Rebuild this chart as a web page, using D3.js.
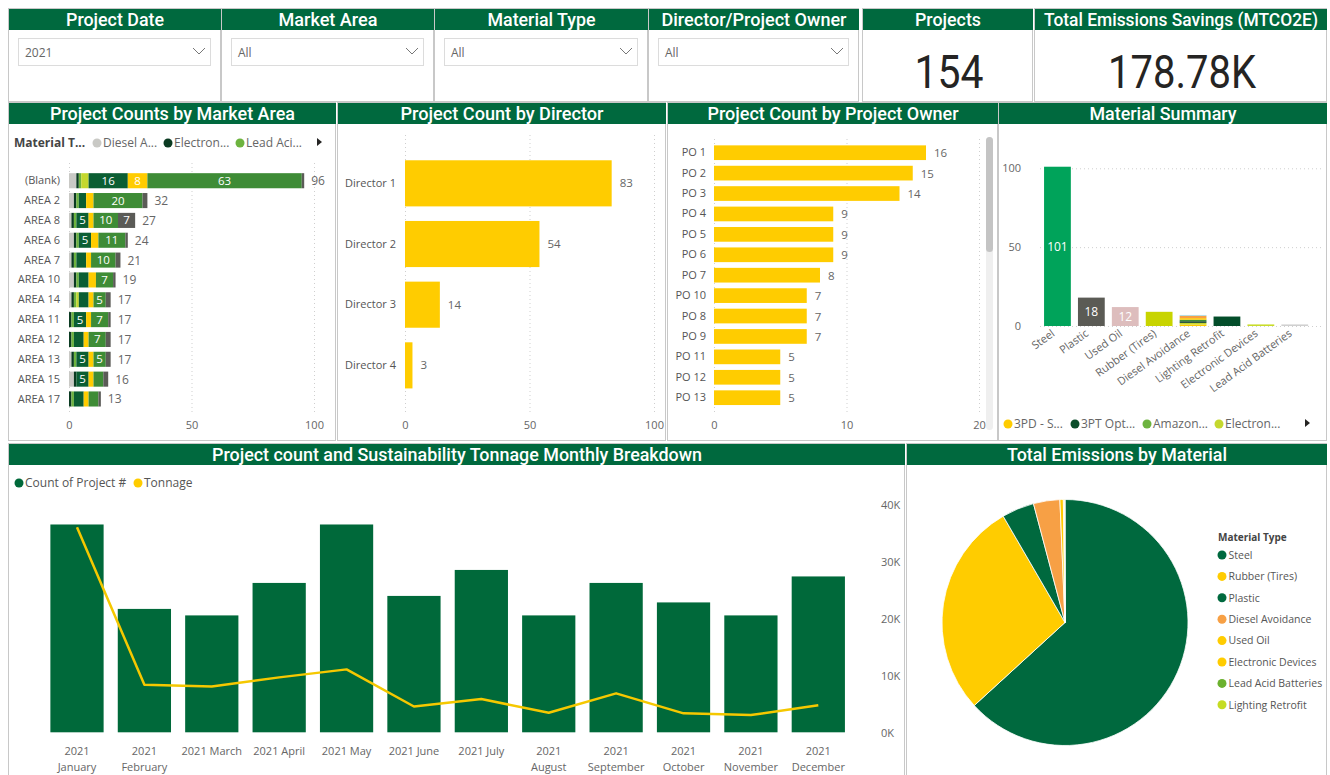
<!DOCTYPE html>
<html><head><meta charset="utf-8">
<script src="https://cdn.jsdelivr.net/npm/d3@7"></script>
<style>
body{margin:0;background:#fff;}
svg{display:block;font-family:"Open Sans","Noto Sans",sans-serif;}
</style>
</head><body>
<svg id="c" width="1330" height="775"></svg>
<script>
// ---------------- DATA ----------------
const filterTitles = ["Project Date","Market Area","Material Type","Director/Project Owner"];
const filterValues = ["2021","All","All","All"];
const kpiTitles = ["Projects","Total Emissions Savings (MTCO2E)"];
const kpiValues = ["154","178.78K"];

const areaCategories = ["(Blank)","AREA 2","AREA 8","AREA 6","AREA 7","AREA 10","AREA 14","AREA 11","AREA 12","AREA 13","AREA 15","AREA 17"];
const materialTypes = ["Diesel Avoidance","Electronic Devices","Lead Acid Batteries","Lighting Retrofit","Plastic","Rubber (Tires)","Steel","Used Oil"];
const areaDiesel     = [3,2,1,2,1,2,1,0,0,1,2,0];
const areaElectronic = [1,1,1,1,1,1,1,1,1,1,1,1];
const areaLeadAcid   = [1,1,1,1,1,1,1,1,1,1,0,1];
const areaLighting   = [3,0,0,0,0,0,1,0,0,0,0,0];
const areaPlastic    = [16,3,5,5,4,4,4,5,4,5,5,4];
const areaRubber     = [8,3,2,3,2,3,2,2,2,2,2,2];
const areaSteel      = [63,20,10,11,10,7,5,7,7,5,4,4];
const areaUsedOil    = [1,2,7,1,2,1,2,1,2,2,2,1];
const areaLegend = ["Diesel A...","Electron...","Lead Aci..."];

const directors = ["Director 1","Director 2","Director 3","Director 4"];
const directorCounts = [83,54,14,3];

const owners = ["PO 1","PO 2","PO 3","PO 4","PO 5","PO 6","PO 7","PO 10","PO 8","PO 9","PO 11","PO 12","PO 13"];
const ownerCounts = [16,15,14,9,9,9,8,7,7,7,5,5,5];

const summaryMaterials = ["Steel","Plastic","Used Oil","Rubber (Tires)","Diesel Avoidance","Lighting Retrofit","Electronic Devices","Lead Acid Batteries"];
const summaryCounts = [101,18,12,9,7,6,1,1];
const dieselVendorCounts = [1,1,1,1,1,1.5,0.5];
const summaryLegend = ["3PD - S...","3PT Opt...","Amazon...","Electron..."];

const months = ["2021 January","2021 February","2021 March","2021 April","2021 May","2021 June","2021 July","2021 August","2021 September","2021 October","2021 November","2021 December"];
const monthProjectCounts = [32,19,18,23,32,21,25,18,23,20,18,24];
const monthTonnage = [36100,8500,8200,9800,11200,4700,6000,3600,7000,3500,3200,4900];
const monthLegend = ["Count of Project #","Tonnage"];

const pieMaterials = ["Steel","Rubber (Tires)","Plastic","Diesel Avoidance","Used Oil","Electronic Devices","Lead Acid Batteries","Lighting Retrofit"];
const pieEmissions = [113000,50800,7600,6200,800,200,100,80];

// ---------------- STYLE ----------------
const G = "#00693E", Y = "#FFCC00", GRAY_TXT = "#666";
const HFONT = "Roboto, 'Open Sans', sans-serif";
const areaColors = ["#C9C9C5","#0B3B22","#6DB33F","#C4D82E","#0B5E33","#FFCC00","#3E8C36","#5B5B57"];
const summaryColors = ["#00A35A","#5B5B55","#DDBDBD","#C8D400","#F7A045","#034D2A","#C9DC2A","#D0D0D0"];
const dieselColors = ["#FFCC00","#C4D82E","#0B3B22","#3E8C36","#FFCC00","#F7A045","#9FD9E8"];
const summaryLegendColors = ["#FFCC00","#0B4D2A","#6DB33F","#C4D82E"];
const pieColors = ["#00693E","#FFCC00","#00693E","#F7A045","#FFCC00","#FFCC00","#6BB12E","#C5DC22"];

const svg = d3.select("#c");

function panel(x0,y0,x1,y1,title,tw){
  svg.append("rect").attr("x",x0+0.5).attr("y",y0+0.5).attr("width",x1-x0).attr("height",y1-y0)
    .attr("fill","#fff").attr("stroke","#C8C8C8");
  svg.append("rect").attr("x",x0+1).attr("y",y0+1).attr("width",x1-x0).attr("height",21).attr("fill",G);
  svg.append("text").attr("x",(x0+x1)/2+1).attr("y",y0+18).attr("text-anchor","middle")
    .attr("fill","#fff").style("font-family",HFONT).style("font-weight",500).style("font-size","18px")
    .attr("textLength",tw).attr("lengthAdjust","spacingAndGlyphs").text(title);
}
function tri(x,y){
  svg.append("path").attr("d",`M${x},${y-4}L${x+5},${y}L${x},${y+4}Z`).attr("fill","#252423");
}
function styleAxis(g,size){
  g.select(".domain").remove();
  g.selectAll("text").attr("fill",GRAY_TXT).style("font-size",(size||11)+"px").style("font-family","'Open Sans',sans-serif");
}
function grid(g){
  g.selectAll(".tick line").attr("stroke","#CFCFCF").attr("stroke-dasharray","1,3");
}

// ---------------- TOP ROW ----------------
const filterX = [[8,220],[221,433],[434,647],[648,858]];
const filterTW = [98,99,108,185];
filterTitles.forEach((t,i)=>{
  const [a,b] = filterX[i];
  panel(a,8,b,101,t,filterTW[i]);
  svg.append("rect").attr("x",a+10.5).attr("y",38.5).attr("width",b-a-20).attr("height",27)
    .attr("fill","#fff").attr("stroke","#DCDCDC");
  svg.append("text").attr("x",a+17).attr("y",57).attr("fill",GRAY_TXT).style("font-size","12px").text(filterValues[i]);
  const cx = b-21;
  svg.append("path").attr("d",`M${cx-6},${48}L${cx},${54}L${cx+6},${48}`).attr("fill","none").attr("stroke","#777").attr("stroke-width",1);
});
const kpiX = [[862,1032],[1034,1326]];
const kpiTW = [66,274], kpiVW = [69,148];
kpiTitles.forEach((t,i)=>{
  const [a,b] = kpiX[i];
  panel(a,8,b,101,t,kpiTW[i]);
  svg.append("text").attr("x",(a+b)/2+2).attr("y",88).attr("text-anchor","middle").attr("fill","#252423")
    .style("font-family",HFONT).style("font-size","46px").attr("textLength",kpiVW[i]).attr("lengthAdjust","spacingAndGlyphs").text(kpiValues[i]);
});

// ---------------- MARKET AREA ----------------
panel(8,102,335,440,"Project Counts by Market Area",245);
{
  const x = d3.scaleLinear().domain([0,100]).range([69,314]);
  const y = d3.scaleBand().domain(areaCategories).range([170.8,408.9]).paddingInner(0.24).paddingOuter(0.12);
  const gx = svg.append("g").attr("transform","translate(0,412)")
    .call(d3.axisBottom(x).tickValues([0,50,100]).tickSize(-252).tickPadding(9));
  styleAxis(gx); grid(gx);
  const gy = svg.append("g").attr("transform","translate(69,0)").call(d3.axisLeft(y).tickSize(0).tickPadding(9));
  styleAxis(gy);
  gy.selectAll("text").attr("fill","#555");
  const series = [areaDiesel,areaElectronic,areaLeadAcid,areaLighting,areaPlastic,areaRubber,areaSteel,areaUsedOil];
  const rows = areaCategories.map((c,i)=>{const o={cat:c}; materialTypes.forEach((m,k)=>o[m]=series[k][i]); return o;});
  const stack = d3.stack().keys(materialTypes)(rows);
  stack.forEach((s,k)=>{
    const g = svg.append("g");
    g.selectAll("rect").data(s).join("rect")
      .attr("x",d=>x(d[0])).attr("width",d=>Math.max(0,x(d[1])-x(d[0])))
      .attr("y",d=>y(d.data.cat)).attr("height",y.bandwidth()).attr("fill",areaColors[k]);
    g.selectAll("text").data(s.filter(d=>d[1]-d[0]>=5)).join("text")
      .attr("x",d=>(x(d[0])+x(d[1]))/2).attr("y",d=>y(d.data.cat)+y.bandwidth()/2+4)
      .attr("text-anchor","middle").attr("fill","#fff").style("font-size","11.5px").text(d=>d[1]-d[0]);
  });
  svg.append("g").selectAll("text").data(rows).join("text")
    .attr("x",d=>x(d3.sum(materialTypes,m=>d[m]))+7).attr("y",d=>y(d.cat)+y.bandwidth()/2+4.5)
    .attr("fill",GRAY_TXT).style("font-size","12px").text(d=>d3.sum(materialTypes,m=>d[m]));
  // legend
  svg.append("text").attr("x",14).attr("y",147).attr("fill","#444").style("font-size","12px").style("font-weight",700).text("Material T...");
  const lx = [97,168,240];
  areaLegend.forEach((t,i)=>{
    svg.append("circle").attr("cx",lx[i]).attr("cy",143).attr("r",4.5).attr("fill",areaColors[i]);
    svg.append("text").attr("x",lx[i]+6).attr("y",147).attr("fill",GRAY_TXT).style("font-size","12px").text(t);
  });
  tri(317,142);
}

// ---------------- DIRECTOR ----------------
panel(337,102,665,440,"Project Count by Director",203);
{
  const x = d3.scaleLinear().domain([0,100]).range([405,654]);
  const y = d3.scaleBand().domain(directors).range([153,395.7]).paddingInner(0.24).paddingOuter(0.12);
  const gx = svg.append("g").attr("transform","translate(0,412)")
    .call(d3.axisBottom(x).tickValues([0,50,100]).tickSize(-277).tickPadding(9));
  styleAxis(gx); grid(gx);
  const gy = svg.append("g").attr("transform","translate(405,0)").call(d3.axisLeft(y).tickSize(0).tickPadding(9));
  styleAxis(gy);
  gy.selectAll("text").attr("fill","#555");
  svg.append("g").selectAll("rect").data(directors).join("rect")
    .attr("x",x(0)).attr("y",d=>y(d)).attr("height",y.bandwidth())
    .attr("width",(d,i)=>x(directorCounts[i])-x(0)).attr("fill",Y);
  svg.append("g").selectAll("text").data(directors).join("text")
    .attr("x",(d,i)=>x(directorCounts[i])+8).attr("y",d=>y(d)+y.bandwidth()/2+4)
    .attr("fill",GRAY_TXT).style("font-size","11.5px").text((d,i)=>directorCounts[i]);
}

// ---------------- PROJECT OWNER ----------------
panel(667,102,997,440,"Project Count by Project Owner",251);
{
  const x = d3.scaleLinear().domain([0,20]).range([714,979]);
  const y = d3.scaleBand().domain(owners).range([142.5,407.9]).paddingInner(0.28).paddingOuter(0.14);
  const gx = svg.append("g").attr("transform","translate(0,412)")
    .call(d3.axisBottom(x).tickValues([0,10,20]).tickSize(-276).tickPadding(9));
  styleAxis(gx); grid(gx);
  const gy = svg.append("g").attr("transform","translate(714,0)").call(d3.axisLeft(y).tickSize(0).tickPadding(8));
  styleAxis(gy);
  gy.selectAll("text").attr("fill","#555");
  svg.append("g").selectAll("rect").data(owners).join("rect")
    .attr("x",x(0)).attr("y",d=>y(d)).attr("height",y.bandwidth())
    .attr("width",(d,i)=>x(ownerCounts[i])-x(0)).attr("fill",Y);
  svg.append("g").selectAll("text").data(owners).join("text")
    .attr("x",(d,i)=>x(ownerCounts[i])+8).attr("y",d=>y(d)+y.bandwidth()/2+4.5)
    .attr("fill",GRAY_TXT).style("font-size","11.5px").text((d,i)=>ownerCounts[i]);
  svg.append("rect").attr("x",986).attr("y",137).attr("width",7).attr("height",293).attr("rx",3.5).attr("fill","#EFEFEF");
  svg.append("rect").attr("x",986).attr("y",137).attr("width",7).attr("height",115).attr("rx",3.5).attr("fill","#C4C4C4");
}

// ---------------- MATERIAL SUMMARY ----------------
panel(998,102,1326,440,"Material Summary",147);
{
  const x = d3.scaleBand().domain(summaryMaterials).range([1040.5,1311.7]).paddingInner(0.21).paddingOuter(0.105);
  const y = d3.scaleLinear().domain([0,100]).range([326,168.3]);
  const gy = svg.append("g").attr("transform","translate(1040,0)")
    .call(d3.axisLeft(y).tickValues([0,50,100]).tickSize(-282).tickPadding(19));
  styleAxis(gy); grid(gy);
  gy.selectAll(".tick line").attr("transform","translate(0,0)");
  summaryMaterials.forEach((m,i)=>{
    if(m==="Diesel Avoidance"){
      let acc=0;
      dieselVendorCounts.forEach((v,k)=>{
        svg.append("rect").attr("x",x(m)).attr("width",x.bandwidth()).attr("y",y(acc+v)).attr("height",y(acc)-y(acc+v)).attr("fill",dieselColors[k]);
        acc+=v;
      });
    } else {
      svg.append("rect").attr("x",x(m)).attr("width",x.bandwidth()).attr("y",y(summaryCounts[i]))
        .attr("height",Math.max(1.5,y(0)-y(summaryCounts[i]))).attr("fill",summaryColors[i]);
    }
    if(summaryCounts[i]>=10){
      svg.append("text").attr("x",x(m)+x.bandwidth()/2).attr("y",(y(0)+y(summaryCounts[i]))/2+4.5)
        .attr("text-anchor","middle").attr("fill","#fff").style("font-size","12px").text(summaryCounts[i]);
    }
  });
  const gx = svg.append("g").attr("transform","translate(0,326)").call(d3.axisBottom(x).tickSize(0).tickPadding(0));
  styleAxis(gx);
  gx.selectAll("text").attr("text-anchor","end").attr("dy",null)
    .attr("transform","translate(-2,9) rotate(-36)").attr("fill","#666");
  const lx = [1008,1075,1147,1219];
  summaryLegend.forEach((t,i)=>{
    svg.append("circle").attr("cx",lx[i]).attr("cy",424).attr("r",4.5).attr("fill",summaryLegendColors[i]);
    svg.append("text").attr("x",lx[i]+6).attr("y",428).attr("fill",GRAY_TXT).style("font-size","12px").text(t);
  });
  tri(1305,423);
}

// ---------------- MONTHLY ----------------
panel(8,443,904,790,"Project count and Sustainability Tonnage Monthly Breakdown",490);
{
  const x = d3.scaleBand().domain(months).range([43.3,852]).paddingInner(0.21).paddingOuter(0.105);
  const yL = d3.scaleLinear().domain([0,35]).range([732.3,505]);
  const yR = d3.scaleLinear().domain([0,40000]).range([733.3,505]);
  svg.append("g").selectAll("rect").data(months).join("rect")
    .attr("x",d=>x(d)).attr("width",x.bandwidth()).attr("y",(d,i)=>yL(monthProjectCounts[i]))
    .attr("height",(d,i)=>yL(0)-yL(monthProjectCounts[i])).attr("fill","#00693A");
  const line = d3.line().x((d,i)=>x(months[i])+x.bandwidth()/2).y(d=>yR(d));
  svg.append("path").datum(monthTonnage).attr("d",line).attr("fill","none").attr("stroke","#F5C800").attr("stroke-width",2.5).attr("stroke-linejoin","round");
  const gr = svg.append("g").attr("transform","translate(875,0)")
    .call(d3.axisRight(yR).tickValues([0,10000,20000,30000,40000]).tickFormat(d=>(d/1000)+"K").tickSize(0).tickPadding(6));
  styleAxis(gr);
  const gx = svg.append("g").attr("transform","translate(0,738)").call(d3.axisBottom(x).tickSize(0).tickPadding(0));
  styleAxis(gx);
  gx.selectAll("text").each(function(d){
    const t = d3.select(this);
    t.attr("dy",null).attr("y",17);
    if(this.getComputedTextLength() > x.step()-6){
      const parts = d.split(" ");
      t.text(null);
      t.append("tspan").attr("x",0).attr("y",17).text(parts[0]);
      t.append("tspan").attr("x",0).attr("y",33).text(parts.slice(1).join(" "));
    }
  });
  svg.append("circle").attr("cx",19).attr("cy",483).attr("r",4.5).attr("fill","#00693A");
  svg.append("text").attr("x",25).attr("y",487).attr("fill","#555").style("font-size","12px").text(monthLegend[0]);
  svg.append("circle").attr("cx",138).attr("cy",483).attr("r",4.5).attr("fill",Y);
  svg.append("text").attr("x",144).attr("y",487).attr("fill","#555").style("font-size","12px").text(monthLegend[1]);
}

// ---------------- PIE ----------------
panel(906,443,1326,790,"Total Emissions by Material",220);
{
  const pie = d3.pie().sort(null).value(d=>d)(pieEmissions);
  const arc = d3.arc().innerRadius(0).outerRadius(123);
  svg.append("g").attr("transform","translate(1065,622.5)").selectAll("path").data(pie).join("path")
    .attr("d",arc).attr("fill",(d,i)=>pieColors[i]).attr("stroke","#fff").attr("stroke-width",0.8);
  svg.append("text").attr("x",1218).attr("y",541).attr("fill","#444").style("font-size","10px").style("font-weight",700).text("Material Type");
  pieMaterials.forEach((m,i)=>{
    const yy = 555 + i*21.4;
    svg.append("circle").attr("cx",1222).attr("cy",yy).attr("r",4.5).attr("fill",pieColors[i]);
    svg.append("text").attr("x",1228.5).attr("y",yy+3.7).attr("fill","#555").style("font-size","10.5px").text(m);
  });
}
</script>
</body></html>
